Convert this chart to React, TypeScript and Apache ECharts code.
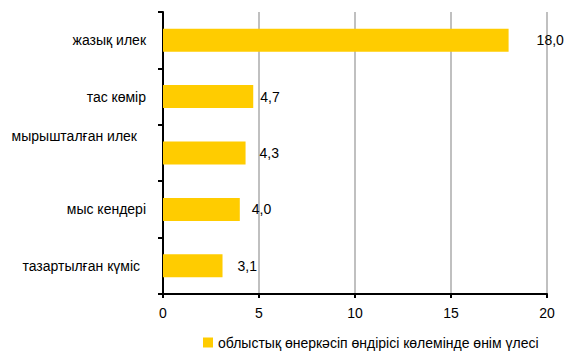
import React, { useEffect, useRef } from "react";
import * as echarts from "echarts";

const categories = ["жазық илек", "тас көмір", "мырышталған илек", "мыс кендері", "тазартылған күміс"];
const values = [18.0, 4.7, 4.3, 4.0, 3.1];
const seriesName = "облыстық өнеркәсіп өндірісі көлемінде өнім үлесі";
const xTicks = [0, 5, 10, 15, 20];

const labelPadRight = [0, 0, 9, 0, 6];
const labelDist = [28, 7, 14, 12, 15];

export default function App() {
  const ref = useRef<HTMLDivElement>(null);
  useEffect(() => {
    if (!ref.current) return;
    const chart = echarts.init(ref.current, null, { renderer: "svg" });
    const font = "'Liberation Sans', Arial, sans-serif";
    chart.setOption({
      animation: false,
      textStyle: { fontFamily: font },
      grid: { left: 163, right: 17, top: 12, bottom: 57, containLabel: false },
      legend: {
        left: 203,
        top: 335,
        padding: 0,
        itemWidth: 10,
        itemHeight: 10,
        itemGap: 8,
        icon: "rect",
        textStyle: { fontSize: 14, color: "#000", fontFamily: font, lineHeight: 15 },
        data: [seriesName],
      },
      xAxis: {
        type: "value",
        min: xTicks[0],
        max: xTicks[xTicks.length - 1],
        interval: 5,
        axisLine: { show: true, lineStyle: { color: "#000", width: 2 } },
        axisTick: { show: true, length: 4, lineStyle: { color: "#000", width: 2 } },
        axisLabel: { color: "#000", fontSize: 14, margin: 12, fontFamily: font },
        splitLine: { show: true, lineStyle: { color: "#c0c0c0", width: 2 } },
      },
      yAxis: {
        type: "category",
        inverse: true,
        data: categories.map((c, i) =>
          i === 2
            ? { value: c + "\n\n", textStyle: { lineHeight: 17, padding: [0, labelPadRight[i], 0, 0] } }
            : { value: c, textStyle: { padding: [0, labelPadRight[i], 0, 0] } }
        ),
        axisLine: { show: true, lineStyle: { color: "#000", width: 2 } },
        axisTick: { show: true, length: 5, lineStyle: { color: "#000", width: 2 } },
        axisLabel: { color: "#000", fontSize: 14, margin: 17, fontFamily: font },
        splitLine: { show: false },
      },
      series: [
        {
          name: seriesName,
          type: "bar",
          barWidth: 23,
          itemStyle: { color: "#FFCC00" },
          data: values.map((v, i) => ({
            value: v,
            label: {
              show: true,
              position: "right",
              distance: labelDist[i],
              color: "#000",
              fontSize: 14,
              fontFamily: font,
              formatter: (p: any) => p.value.toFixed(1).replace(".", ","),
            },
          })),
        },
      ],
    });
    return () => chart.dispose();
  }, []);
  return <div ref={ref} style={{ position: "fixed", left: 0, top: 0, width: 564, height: 351, background: "#fff" }} />;
}
